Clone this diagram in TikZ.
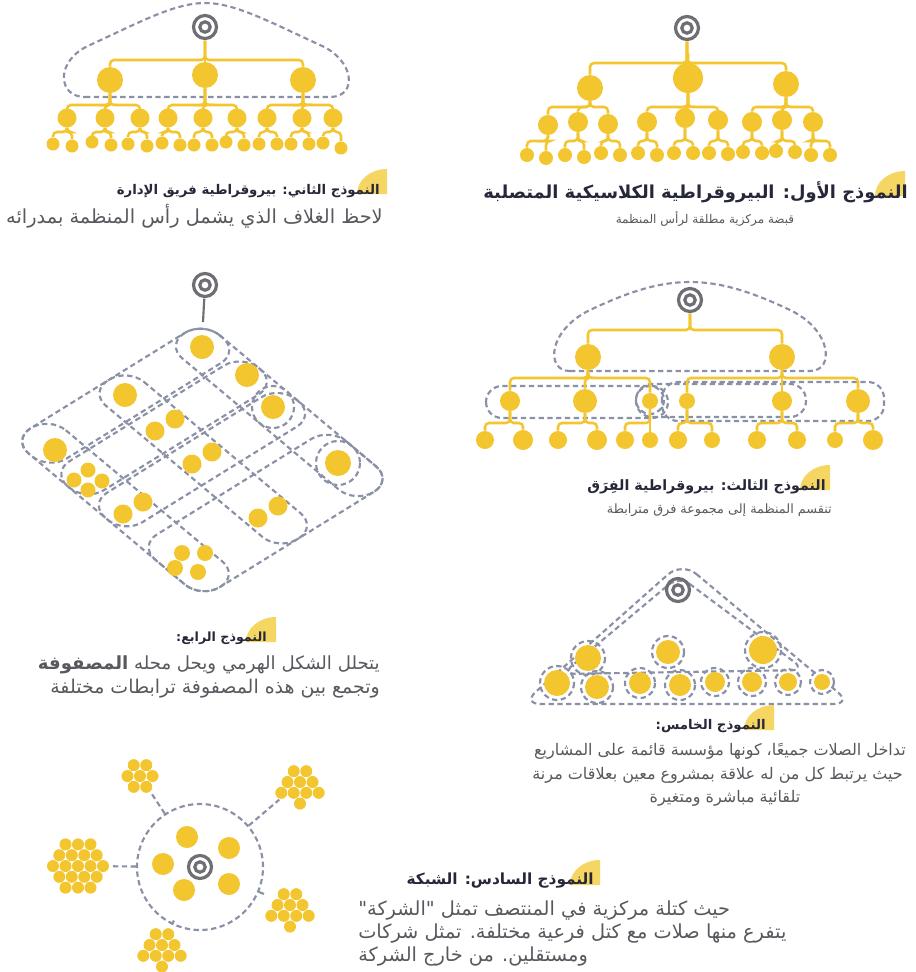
\documentclass[tikz,border=0pt]{standalone}
\usepackage{fontspec}
\newfontfamily\arabicfont[Script=Arabic]{DejaVu Sans}
\TeXXeTstate=1
\usetikzlibrary{calc}

\definecolor{gold}{RGB}{243,198,48}
\definecolor{flag}{RGB}{246,214,98}
\definecolor{mist}{RGB}{138,144,166}
\definecolor{lead}{RGB}{110,110,116}
\definecolor{ink}{RGB}{38,40,58}
\definecolor{slate}{RGB}{88,88,94}

\tikzset{
  staff/.style={circle, fill=gold, inner sep=0pt, minimum size=1.5pt*#1},
  head/.style={circle, inner sep=0pt, minimum size=20pt},
  headring/.style={draw=lead, line width=2.4pt},
  stem/.style={draw=lead, line width=1.6pt},
  branch/.style={draw=gold, line width=1.9pt, rounded corners=3pt},
  env/.style={draw=mist, line width=1.6pt, dash pattern=on 4pt off 2.6pt},
  hub/.style={circle, env, inner sep=0pt, minimum size=94.5pt},
  clump/.style={circle, inner sep=0pt, minimum size=1.5pt*#1},
  heading/.style={font=\arabicfont\bfseries\fontsize{#1}{#1}\selectfont, text=ink, inner sep=0pt},
  gloss/.style={font=\arabicfont\fontsize{#1}{#1}\selectfont, text=slate, inner sep=0pt},
}

% concentric grey rings marking the head of the organisation
\newcommand{\HeadMark}[2]{% #1=name, #2=centre
  \node[head] (#1) at (#2) {};
  \draw[headring] (#1.center) circle[radius=11.5];
  \draw[headring] (#1.center) circle[radius=5.2];
}
% elbow connector: down from the parent to the bar, across, then down to the child
\newcommand{\Branch}[3]{% #1=parent, #2=child, #3=bar coordinate
  \draw[branch] (#1) -- (#1 |- #3) -| (#2);
}
% yellow quarter disc behind the end of a heading
\newcommand{\TitleFlag}[1]{% #1=lower right corner
  \fill[flag] (#1) -- ++(-30,0) arc[start angle=180, end angle=270, x radius=30, y radius=25] -- cycle;
}
% clump of small dots on a hexagonal grid
\newcommand{\Clump}[4]{% #1=name, #2=centre, #3=dots (7, 10 or 19), #4=reach
  \node[clump=#4] (#1) at (#2) {};
  \fill[gold] (#1.center) circle[radius=6];
  \foreach \a in {0,60,...,300}
    \fill[gold] (#1.center) ++(\a:12.5) circle[radius=6];
  \ifnum#3>7
    \foreach \a in {30,90,150}
      \fill[gold] (#1.center) ++(\a:21.6) circle[radius=6];
  \fi
  \ifnum#3>10
    \foreach \a in {210,270,330}
      \fill[gold] (#1.center) ++(\a:21.6) circle[radius=6];
    \foreach \a in {0,60,...,300}
      \fill[gold] (#1.center) ++(\a:25) circle[radius=6];
  \fi
}

\begin{document}
\begin{tikzpicture}[x=0.75pt, y=-0.75pt]
  \fill[white] (0,0) rectangle (916,972);
  \useasboundingbox (0,0) rectangle (916,972);

  % model 1: classical rigid bureaucracy
  \HeadMark{m1head}{687,28}
  \coordinate (m1barA) at (0,63);
  \coordinate (m1barB) at (0,107);
  \coordinate (m1barC) at (0,141);
  \foreach \i/\x/\y/\r in {1/590/88/13, 2/688/78/15, 3/786/84/13}{
    \node[staff=\r] (m1a\i) at (\x,\y) {};
    \Branch{m1head}{m1a\i}{m1barA}
  }
  \foreach \i/\p/\x/\y in {1/1/548/125, 2/1/578/122, 3/1/608/124, 4/2/647/122, 5/2/685/118,
                           6/2/718/120, 7/3/752/122, 8/3/782/120, 9/3/813/122}{
    \node[staff=10] (m1b\i) at (\x,\y) {};
    \Branch{m1a\p}{m1b\i}{m1barB}
  }
  \foreach \i/\p/\x/\y in {1/1/527/155, 2/1/546/158, 3/2/565/155, 4/2/584/157, 5/3/601/153,
                           6/3/620/155, 7/4/638/153, 8/4/657/155, 9/5/674/153, 10/5/693/153,
                           11/6/709/153, 12/6/728/154, 13/7/743/152, 14/7/762/153, 15/8/776/151,
                           16/8/795/152, 17/9/811/155, 18/9/830/155}{
    \node[staff=7] (m1c\i) at (\x,\y) {};
    \Branch{m1b\p}{m1c\i}{m1barC}
  }

  % model 2: bureaucracy with a management team
  \draw[env] (85,97) -- (330,97) .. controls (358,97) and (355,60) .. (320,45)
    .. controls (270,22) and (235,3) .. (205,3) .. controls (175,3) and (140,22) .. (90,45)
    .. controls (55,60) and (57,97) .. (85,97) -- cycle;
  \HeadMark{m2head}{205,27}
  \coordinate (m2barA) at (0,60);
  \coordinate (m2barB) at (0,105);
  \coordinate (m2barC) at (0,132);
  \foreach \i/\x/\y in {1/110/80, 2/205/75, 3/303/80}{
    \node[staff=13] (m2a\i) at (\x,\y) {};
    \Branch{m2head}{m2a\i}{m2barA}
  }
  \foreach \i/\p/\x in {1/1/67, 2/1/105, 3/1/140, 4/2/168, 5/2/203, 6/2/237, 7/3/267, 8/3/302, 9/3/333}{
    \node[staff=9.5] (m2b\i) at (\x,118) {};
    \Branch{m2a\p}{m2b\i}{m2barB}
  }
  \foreach \i/\p/\x/\y in {1/1/53/144, 2/1/72/146, 3/2/92/142, 4/2/111/145, 5/3/128/144,
                           6/3/147/146, 7/4/162/143, 8/4/180/145, 9/5/194/145, 10/5/212/145,
                           11/6/226/142, 12/6/244/145, 13/7/259/144, 14/7/277/144, 15/8/291/144,
                           16/8/309/144, 17/9/323/143, 18/9/341/148}{
    \node[staff=6.5] (m2c\i) at (\x,\y) {};
    \Branch{m2b\p}{m2c\i}{m2barC}
  }

  % model 3: bureaucracy of teams
  \draw[env] (570,371) -- (810,371) .. controls (835,371) and (832,330) .. (790,310)
    .. controls (750,291) and (720,282) .. (690,282) .. controls (660,282) and (630,291) .. (590,310)
    .. controls (548,330) and (545,371) .. (570,371) -- cycle;
  \draw[env, rounded corners=12pt] (486,386) rectangle (668,418);
  \draw[env, rounded corners=12pt] (636,384) rectangle (806,417);
  \draw[env, rounded corners=12pt] (662,382) rectangle (884,421);
  \draw[env] (650,400) circle[radius=14];
  \HeadMark{m3head}{690,300}
  \coordinate (m3barA) at (0,330);
  \coordinate (m3barB) at (0,378);
  \coordinate (m3barC) at (0,423);
  \foreach \i/\x in {1/588, 2/782}{
    \node[staff=13] (m3a\i) at (\x,357) {};
    \Branch{m3head}{m3a\i}{m3barA}
  }
  \foreach \i/\p/\x/\r in {1/1/510/10, 2/1/585/12, 3/1/650/8, 4/2/687/8, 5/2/782/10, 6/2/858/12}{
    \node[staff=\r] (m3b\i) at (\x,401) {};
    \Branch{m3a\p}{m3b\i}{m3barB}
  }
  \foreach \i/\p/\x/\r in {1/1/485/9, 2/1/523/10, 3/2/558/9, 4/2/597/10, 5/3/625/9, 6/3/650/8,
                           7/4/678/9, 8/4/712/8, 9/5/757/9, 10/5/797/9, 11/6/835/8, 12/6/873/10}{
    \node[staff=\r] (m3c\i) at (\x,440) {};
    \Branch{m3b\p}{m3c\i}{m3barC}
  }

  % model 4: the matrix, rows and columns on a slanted grid
  \HeadMark{m4head}{205,285}
  \coordinate (m4top) at (203,322);
  \draw[stem] (m4head) -- (m4top);
  \begin{scope}[shift={(203,325)}, x={(0.575pt,-0.482pt)}, y={(-0.637pt,-0.394pt)}]
    \foreach \lo/\hi in {-3/41, 86/131, 178/222}
      \draw[env, rounded corners=16pt] (-3,\lo) -- (244,\lo) -- (244,\hi) -- (-3,\hi) -- cycle;
    \foreach \lo/\hi in {-3/44, 48/93, 97/143, 162/244}
      \draw[env, rounded corners=16pt] (\lo,-3) -- (\hi,-3) -- (\hi,222) -- (\lo,222) -- cycle;
  \end{scope}
  \foreach \i/\x/\y/\r in {1/202/347/12, 2/247/375/12, 3/125/395/12, 4/273/407/12, 6/55/450/12, 8/338/463/13}
    \node[staff=\r] (m4u\i) at (\x,\y) {};
  \draw[env] (m4u4.center) circle[radius=21];
  \draw[env] (m4u8.center) circle[radius=22];
  \foreach \i/\x/\y in {5/165/425, 7/202/458, 10/133/508, 11/268/512}{
    \node[staff=9.5] (m4d\i a) at (\x-10,\y+6) {};
    \node[staff=9.5] (m4d\i b) at (\x+10,\y-6) {};
  }
  \foreach \j/\dx/\dy in {a/-14/0, b/0/-10, c/14/1, d/0/10}
    \node[staff=7.5] (m4q9\j) at (88+\dx,480+\dy) {};
  \foreach \j/\dx/\dy in {a/-8/-9, b/15/-9, c/-15/6, d/8/10}
    \node[staff=8] (m4q12\j) at (190+\dx,562+\dy) {};

  % model 5: project organisation
  \draw[env, rounded corners=14pt] (682,562) -- (852,704) -- (522,704) -- cycle;
  \draw[env, rounded corners=10pt] (679,576) -- (805,670) -- (562,674) -- cycle;
  \HeadMark{m5head}{678,590}
  \foreach \i/\x/\y/\r in {1/588/658/13, 2/668/652/12, 3/763/650/14}{
    \node[staff=\r] (m5a\i) at (\x,\y) {};
    \draw[env] (m5a\i.center) circle[radius=\r+4];
  }
  \foreach \i/\x/\y/\r in {1/557/683/13, 2/597/687/12, 3/640/683/11, 4/680/685/11,
                           5/715/682/10, 6/752/682/10, 7/788/682/9, 8/822/682/8}{
    \node[staff=\r] (m5b\i) at (\x,\y) {};
    \draw[env] (m5b\i.center) circle[radius=\r+4];
  }

  % model 6: the network
  \node[hub] (m6hub) at (200,867) {};
  \HeadMark{m6head}{200,867}
  \foreach \i/\x/\y in {1/187/837, 2/229/848, 3/163/864, 4/184/890, 5/229/884}
    \node[staff=11] (m6s\i) at (\x,\y) {};
  \Clump{m6tl}{140,776}{7}{19}
  \Clump{m6tr}{300,782}{10}{27}
  \Clump{m6l}{78,866}{19}{32}
  \Clump{m6br}{290,905}{10}{27}
  \Clump{m6b}{162,945}{10}{27}
  \foreach \c in {m6tl,m6tr,m6l,m6br,m6b}
    \draw[env] (m6hub) -- (\c);

  % headings and captions
  \TitleFlag{905,196}
  \node[heading=13.4, anchor=east] (m1title) at (908,192) {\beginR النموذج الأول: البيروقراطية الكلاسيكية المتصلبة\endR};
  \node[gloss=9] (m1note) at (705,219) {\beginR قبضة مركزية مطلقة لرأس المنظمة\endR};

  \TitleFlag{387,194}
  \node[heading=10, anchor=east] (m2title) at (380,191) {\beginR النموذج الثاني: بيروقراطية فريق الإدارة\endR};
  \node[gloss=14.5, anchor=east] (m2note) at (383,216) {\beginR لاحظ الغلاف الذي يشمل رأس المنظمة بمدرائه\endR};

  \TitleFlag{830,490}
  \node[heading=10.7, anchor=east] (m3title) at (826,487) {\beginR النموذج الثالث: بيروقراطية الفِرَق\endR};
  \node[gloss=9.6, anchor=east] (m3note) at (832,510) {\beginR تنقسم المنظمة إلى مجموعة فرق مترابطة\endR};

  \TitleFlag{276,642}
  \node[heading=9.5, anchor=east] (m4title) at (267,638) {\beginR النموذج الرابع:\endR};
  \node[gloss=13.6, anchor=east] (m4line1) at (380,665) {\beginR يتحلل الشكل الهرمي ويحل محله \textbf{المصفوفة}\endR};
  \node[gloss=14.2, anchor=east] (m4line2) at (380,689) {\beginR وتجمع بين هذه المصفوفة ترابطات مختلفة\endR};

  \TitleFlag{774,730}
  \node[heading=10, anchor=east] (m5title) at (766,726) {\beginR النموذج الخامس:\endR};
  \node[gloss=12, anchor=east] (m5line1) at (906,751) {\beginR تداخل الصلات جميعًا، كونها مؤسسة قائمة على المشاريع\endR};
  \node[gloss=12, anchor=east] (m5line2) at (903,775) {\beginR حيث يرتبط كل من له علاقة بمشروع معين بعلاقات مرنة\endR};
  \node[gloss=12] (m5line3) at (725,798) {\beginR تلقائية مباشرة ومتغيرة\endR};

  \TitleFlag{600,885}
  \node[heading=11.5, anchor=east] (m6title) at (594,881) {\beginR النموذج السادس: الشبكة\endR};
  \node[gloss=14.5, anchor=west] (m6line1) at (358,911) {\beginR حيث كتلة مركزية في المنتصف تمثل "الشركة"\endR};
  \node[gloss=14.5, anchor=west] (m6line2) at (358,934) {\beginR يتفرع منها صلات مع كتل فرعية مختلفة. تمثل شركات\endR};
  \node[gloss=14.5, anchor=west] (m6line3) at (358,957) {\beginR ومستقلين. من خارج الشركة\endR};
\end{tikzpicture}
\end{document}
